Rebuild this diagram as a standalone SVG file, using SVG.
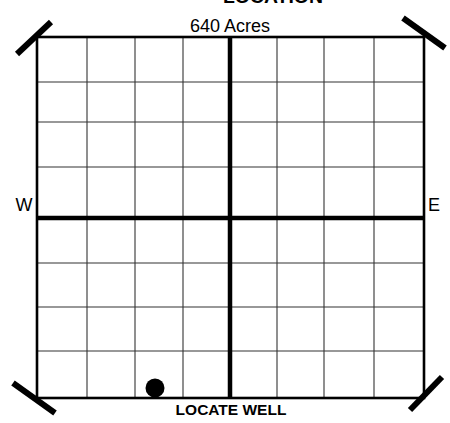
<svg xmlns="http://www.w3.org/2000/svg" width="450" height="423" viewBox="0 0 450 423">
<style>
.grid{stroke:#333;stroke-width:1.1;fill:none}
.frame{stroke:#000;stroke-width:2.6;fill:none}
.axis{stroke:#000;stroke-width:4.5}
.tick{stroke:#000;stroke-width:6;stroke-linecap:butt}
.lbl{font-family:"Liberation Sans",Arial,sans-serif;fill:#000}
</style>
<rect width="450" height="423" fill="#fff"/>
<text class="lbl" x="273" y="3" text-anchor="middle" font-size="18" font-weight="bold" textLength="100" lengthAdjust="spacingAndGlyphs">LOCATION</text>
<g id="grid">
<g class="grid">
<line x1="87" y1="37" x2="87" y2="398"/>
<line x1="135" y1="37" x2="135" y2="398"/>
<line x1="183" y1="37" x2="183" y2="398"/>
<line x1="277" y1="37" x2="277" y2="398"/>
<line x1="324" y1="37" x2="324" y2="398"/>
<line x1="374" y1="37" x2="374" y2="398"/>
<line x1="37" y1="82" x2="424" y2="82"/>
<line x1="37" y1="122" x2="424" y2="122"/>
<line x1="37" y1="167" x2="424" y2="167"/>
<line x1="37" y1="263" x2="424" y2="263"/>
<line x1="37" y1="307" x2="424" y2="307"/>
<line x1="37" y1="351" x2="424" y2="351"/>
</g>
<rect class="frame" x="37" y="37" width="387" height="361"/>
<line class="axis" x1="230" y1="37" x2="230" y2="398"/>
<line class="axis" x1="37" y1="218" x2="424" y2="218"/>
</g>
<g id="corners">
<line class="tick" x1="17" y1="54" x2="51" y2="22"/>
<line class="tick" x1="403" y1="18" x2="445" y2="48"/>
<line class="tick" x1="13" y1="383" x2="55" y2="413"/>
<line class="tick" x1="410" y1="410" x2="442" y2="377"/>
</g>
<g id="well">
<circle cx="155" cy="388" r="9.5" fill="#000"/>
</g>
<g id="labels">
<text class="lbl" x="230" y="32" text-anchor="middle" font-size="18">640 Acres</text>
<text class="lbl" x="24" y="211" text-anchor="middle" font-size="18">W</text>
<text class="lbl" x="434" y="211" text-anchor="middle" font-size="18">E</text>
<text class="lbl" x="231" y="415" text-anchor="middle" font-size="15.5" font-weight="bold">LOCATE WELL</text>
</g>
</svg>
